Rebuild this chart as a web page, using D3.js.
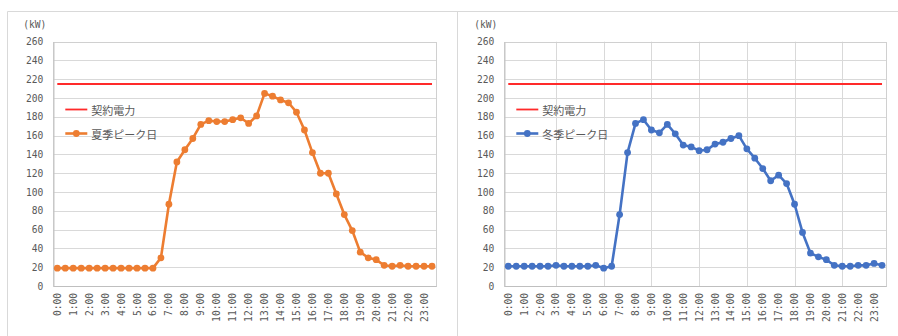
<!DOCTYPE html>
<html><head><meta charset="utf-8">
<script src="https://cdn.jsdelivr.net/npm/d3@7"></script>
<style>
html,body{margin:0;padding:0;background:#fff;}
svg{display:block;}
</style></head>
<body>
<svg id="chart" width="898" height="336"></svg>
<script>
const categories = ["0:00","0:30","1:00","1:30","2:00","2:30","3:00","3:30","4:00","4:30","5:00","5:30",
  "6:00","6:30","7:00","7:30","8:00","8:30","9:00","9:30","10:00","10:30","11:00","11:30",
  "12:00","12:30","13:00","13:30","14:00","14:30","15:00","15:30","16:00","16:30","17:00","17:30",
  "18:00","18:30","19:00","19:30","20:00","20:30","21:00","21:30","22:00","22:30","23:00","23:30"];
const xTickLabels = ["0:00","1:00","2:00","3:00","4:00","5:00","6:00","7:00","8:00","9:00","10:00","11:00",
  "12:00","13:00","14:00","15:00","16:00","17:00","18:00","19:00","20:00","21:00","22:00","23:00"];
const yTicks = [0,20,40,60,80,100,120,140,160,180,200,220,240,260];
const summerPeak = [19,19,19,19,19,19,19,19,19,19,19,19,19,30,87,132,145,157,172,176,175,175,177,179,
  173,181,205,202,198,195,185,166,142,120,120,98,76,59,36,30,28,22,21,22,21,21,21,21];
const winterPeak = [21,21,21,21,21,21,22,21,21,21,21,22,19,21,76,142,173,177,166,163,172,162,150,148,
  144,145,151,153,157,160,146,136,125,112,118,109,87,57,35,31,28,22,21,21,22,22,24,22];
const contractPower = 215;
const winterGridTimes = ["3:00","6:00","9:00","12:00","15:00","18:00","21:00"];
const legendContract = "契約電力";
const legendSummer = "夏季ピーク日";
const legendWinter = "冬季ピーク日";
const unitLabel = "(kW)";

const svg = d3.select("#chart");
const monoFont = "'DejaVu Sans Mono', 'Liberation Mono', monospace";
const cjkFont = "'Noto Sans CJK JP', sans-serif";
const textColor = "#595959";

// outer frames
svg.append("line").attr("x1",7.5).attr("x2",898).attr("y1",11.5).attr("y2",11.5).attr("stroke","#d9d9d9");
svg.append("line").attr("x1",7.5).attr("x2",7.5).attr("y1",11.5).attr("y2",336).attr("stroke","#d9d9d9");
svg.append("line").attr("x1",457.5).attr("x2",457.5).attr("y1",11.5).attr("y2",336).attr("stroke","#d9d9d9");

function drawPanel(opts) {
  const top = 41.7, bottom = 286;
  const x = d3.scaleBand().domain(categories).range([opts.left, opts.right]);
  const cx = c => x(c) + x.bandwidth()/2;
  const y = d3.scaleLinear().domain([0, 260]).range([bottom, top]);
  const g = svg.append("g");

  // horizontal gridlines
  g.append("g").selectAll("line").data(yTicks).join("line")
    .attr("x1", opts.left).attr("x2", opts.right)
    .attr("y1", d => Math.round(y(d)) + 0.5).attr("y2", d => Math.round(y(d)) + 0.5)
    .attr("stroke", "#d9d9d9").attr("stroke-width", 1);

  if (opts.vGrid) {
    g.append("g").selectAll("line").data(opts.vGrid).join("line")
      .attr("x1", d => Math.round(cx(d)) + 0.5).attr("x2", d => Math.round(cx(d)) + 0.5)
      .attr("y1", top).attr("y2", bottom)
      .attr("stroke", "#d9d9d9").attr("stroke-width", 1);
  }

  // plot border
  g.append("rect").attr("x", opts.left + 0.5).attr("y", Math.round(top) + 0.5)
    .attr("width", opts.right - opts.left).attr("height", Math.round(bottom) - Math.round(top))
    .attr("fill", "none").attr("stroke", "#d0d0d0");

  // y axis
  const ya = g.append("g").attr("transform", `translate(${opts.left},0)`)
    .call(d3.axisLeft(y).tickValues(yTicks).tickSize(0).tickPadding(10));
  ya.select(".domain").attr("stroke", "#bfbfbf");
  ya.selectAll("text").attr("font-family", monoFont).attr("font-size", "9.6px").attr("fill", textColor);

  // x axis
  const xa = g.append("g").attr("transform", `translate(0,${bottom})`)
    .call(d3.axisBottom(x).tickValues(xTickLabels).tickSize(0));
  xa.select(".domain").attr("stroke", "#bfbfbf");
  xa.selectAll("text")
    .attr("font-family", monoFont).attr("font-size", "9.6px").attr("fill", textColor)
    .attr("text-anchor", "end").attr("dy", null).attr("y", null)
    .attr("transform", "translate(0,7) rotate(-90)")
    .attr("dominant-baseline", "central");

  // unit label
  g.append("text").attr("x", opts.left - 30).attr("y", 24)
    .attr("font-family", monoFont).attr("font-size", "9.6px").attr("fill", textColor)
    .attr("dominant-baseline", "central").text(unitLabel);

  // contract power line
  g.append("line")
    .attr("x1", cx(categories[0])).attr("x2", cx(categories[categories.length-1]))
    .attr("y1", y(contractPower)).attr("y2", y(contractPower))
    .attr("stroke", "#ff2a2a").attr("stroke-width", 1.8);

  // series
  const line = d3.line().x((d,i) => cx(categories[i])).y(d => y(d));
  g.append("path").datum(opts.values).attr("d", line)
    .attr("fill", "none").attr("stroke", opts.color).attr("stroke-width", 2.6)
    .attr("stroke-linejoin", "round");
  g.append("g").selectAll("circle").data(opts.values).join("circle")
    .attr("cx", (d,i) => cx(categories[i])).attr("cy", d => y(d)).attr("r", 3.4)
    .attr("fill", opts.color);

  // legend
  const lx = opts.left + 12;
  g.append("line").attr("x1", lx).attr("x2", lx + 22).attr("y1", 109.5).attr("y2", 109.5)
    .attr("stroke", "#ff2a2a").attr("stroke-width", 1.8);
  g.append("text").attr("x", lx + 26).attr("y", 109.5).attr("dominant-baseline", "central")
    .attr("font-family", cjkFont).attr("font-size", "11px").attr("fill", textColor).text(legendContract);
  g.append("line").attr("x1", lx).attr("x2", lx + 22).attr("y1", 133.5).attr("y2", 133.5)
    .attr("stroke", opts.color).attr("stroke-width", 2.6);
  g.append("circle").attr("cx", lx + 11).attr("cy", 133.5).attr("r", 3.4).attr("fill", opts.color);
  g.append("text").attr("x", lx + 26).attr("y", 133.5).attr("dominant-baseline", "central")
    .attr("font-family", cjkFont).attr("font-size", "11px").attr("fill", textColor).text(opts.legend);
}

drawPanel({left: 53.3, right: 436, values: summerPeak, color: "#ED7D31", legend: legendSummer, vGrid: null});
drawPanel({left: 504.3, right: 886, values: winterPeak, color: "#4472C4", legend: legendWinter, vGrid: winterGridTimes});
</script>
</body></html>
